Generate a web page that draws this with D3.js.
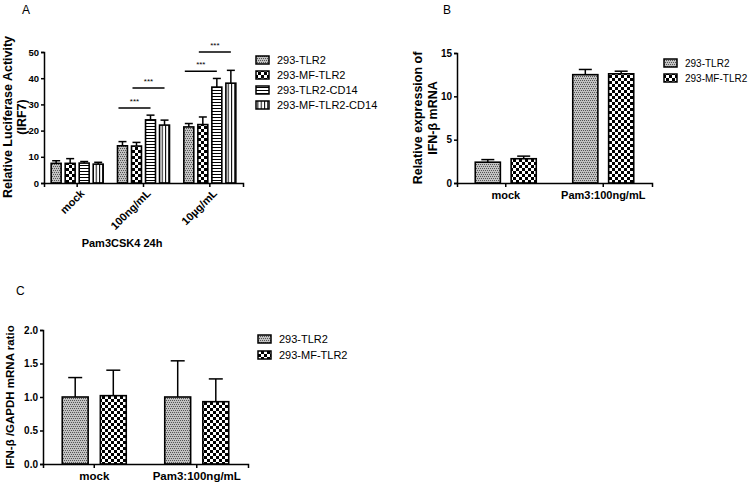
<!DOCTYPE html>
<html lang="en">
<head>
<meta charset="UTF-8">
<title>TLR2 panels</title>
<style>
    html, body { margin: 0; padding: 0; background: #fff; }
    svg { display: block; font-family: "Liberation Sans", Arial, sans-serif; }
    .axis path, .axis line { stroke: #000; stroke-width: 1.5; }
    .axis text { font-weight: bold; font-size: 9px; fill: #000; }
</style>
</head>
<body>
<div id="wrapper"></div>
<script src="https://cdnjs.cloudflare.com/ajax/libs/d3/7.8.5/d3.min.js"></script>
<script>
    // ---- data ----
    // panel A
    const groupsA = ['mock', '100ng/mL', '10µg/mL'];
    const seriesA = ['293-TLR2', '293-MF-TLR2', '293-TLR2-CD14', '293-MF-TLR2-CD14'];
    const meansA = [
        [7.5, 7.5, 7.6, 7.2],
        [14.2, 14.1, 24.1, 22.1],
        [21.4, 22.3, 36.6, 38.1]
    ];
    const errA = [
        [1.0, 1.8, 0.6, 0.7],
        [1.6, 1.4, 1.8, 1.9],
        [1.3, 2.9, 3.3, 4.9]
    ];
    const ticksA = [0, 10, 20, 30, 40, 50];
    // significance bars: group, from series, to series, height
    const sigA = [
        { g: 1, a: 0, b: 2, y: 28.6 },
        { g: 1, a: 1, b: 3, y: 36.3 },
        { g: 2, a: 0, b: 2, y: 42.7 },
        { g: 2, a: 1, b: 3, y: 50.0 }
    ];

    // panel B
    const groupsB = ['mock', 'Pam3:100ng/mL'];
    const seriesB = ['293-TLR2', '293-MF-TLR2'];
    const meansB = [[2.4, 2.8], [12.5, 12.6]];
    const errB = [[0.3, 0.3], [0.6, 0.3]];
    const ticksB = [0, 5, 10, 15];

    // panel C
    const groupsC = ['mock', 'Pam3:100ng/mL'];
    const seriesC = ['293-TLR2', '293-MF-TLR2'];
    const meansC = [[1.0, 1.02], [1.0, 0.93]];
    const errC = [[0.29, 0.38], [0.54, 0.34]];
    const ticksC = [0, 0.5, 1.0, 1.5, 2.0];

    const fills = {
        '293-TLR2': 'url(#pStip)',
        '293-MF-TLR2': 'url(#pCheck)',
        '293-TLR2-CD14': 'url(#pHor)',
        '293-MF-TLR2-CD14': 'url(#pVer)'
    };

    const svg = d3.select('#wrapper').append('svg')
        .attr('width', 750).attr('height', 482);

    // patterns
    const defs = svg.append('defs');
    const stip = defs.append('pattern').attr('id', 'pStip')
        .attr('patternUnits', 'userSpaceOnUse').attr('width', 4).attr('height', 4);
    stip.append('rect').attr('width', 4).attr('height', 4).attr('fill', '#c2c2c2');
    [[0, 0], [2, 0], [1, 2], [3, 2]].forEach(p => {
        stip.append('rect').attr('x', p[0]).attr('y', p[1]).attr('width', 1).attr('height', 1).attr('fill', '#555');
    });

    const chk = defs.append('pattern').attr('id', 'pCheck')
        .attr('patternUnits', 'userSpaceOnUse').attr('width', 6).attr('height', 6);
    chk.append('rect').attr('width', 6).attr('height', 6).attr('fill', '#fff');
    chk.append('rect').attr('width', 3).attr('height', 3).attr('fill', '#000');
    chk.append('rect').attr('x', 3).attr('y', 3).attr('width', 3).attr('height', 3).attr('fill', '#000');

    const hor = defs.append('pattern').attr('id', 'pHor')
        .attr('patternUnits', 'userSpaceOnUse').attr('width', 3).attr('height', 3);
    hor.append('rect').attr('width', 3).attr('height', 3).attr('fill', '#fff');
    hor.append('rect').attr('width', 3).attr('height', 1).attr('fill', '#000');

    const ver = defs.append('pattern').attr('id', 'pVer')
        .attr('patternUnits', 'userSpaceOnUse').attr('width', 3.3).attr('height', 3);
    ver.append('rect').attr('width', 3.3).attr('height', 3).attr('fill', '#fff');
    ver.append('rect').attr('width', 1).attr('height', 3).attr('fill', '#000');

    // generic grouped bar panel
    function panel(o) {
        const g = svg.append('g');
        const x0 = d3.scaleBand().domain(o.groups).range([o.left, o.right]);
        const x1 = d3.scaleBand().domain(o.series).range([-o.inner / 2, o.inner / 2]).paddingInner(o.pad);
        const y = d3.scaleLinear().domain([0, o.max]).range([o.bottom, o.top]);
        const cx = gi => x0(o.groups[gi]) + x0.bandwidth() / 2;

        // bars
        o.means.forEach((row, gi) => {
            row.forEach((v, si) => {
                const s = o.series[si];
                const bx = cx(gi) + x1(s);
                const mid = bx + x1.bandwidth() / 2;
                const top = y(v + o.errs[gi][si]);
                g.append('line').attr('x1', mid).attr('x2', mid)
                    .attr('y1', y(v)).attr('y2', top)
                    .attr('stroke', '#000').attr('stroke-width', 1.5);
                g.append('line').attr('x1', mid - o.cap / 2).attr('x2', mid + o.cap / 2)
                    .attr('y1', top).attr('y2', top)
                    .attr('stroke', '#000').attr('stroke-width', 1.5);
                g.append('rect').attr('x', bx).attr('y', y(v))
                    .attr('width', x1.bandwidth()).attr('height', o.bottom - y(v))
                    .attr('fill', fills[s]).attr('stroke', '#000').attr('stroke-width', 1.6);
            });
        });

        // y axis
        const ya = g.append('g').attr('class', 'axis')
            .attr('transform', `translate(${o.left},0)`)
            .call(d3.axisLeft(y).tickValues(o.ticks).tickFormat(o.fmt).tickSizeOuter(0).tickSize(3).tickPadding(2));
        ya.selectAll('text').style('font-size', o.tickFont + 'px');

        // x axis
        const xa = g.append('g').attr('class', 'axis')
            .attr('transform', `translate(0,${o.bottom})`)
            .call(d3.axisBottom(x0).tickSizeOuter(0).tickSize(4).tickPadding(4));
        xa.selectAll('text').style('font-size', o.xFont + 'px');
        if (o.rotate) {
            xa.selectAll('text')
                .attr('text-anchor', 'end')
                .attr('dx', '-0.2em').attr('dy', '0.5em')
                .attr('transform', 'rotate(-45)');
        }

        // y label
        o.ylab.forEach((t, i) => {
            g.append('text')
                .attr('transform', `translate(${o.ylabX[i]},${o.ylabY}) rotate(-90)`)
                .attr('text-anchor', 'middle')
                .attr('font-weight', 'bold').attr('font-size', o.ylabFont)
                .text(t);
        });

        // legend
        o.series.forEach((s, i) => {
            const ly = o.legY + i * o.legStep;
            g.append('rect').attr('x', o.legX).attr('y', ly - 4)
                .attr('width', 13).attr('height', 8)
                .attr('fill', fills[s]).attr('stroke', '#000').attr('stroke-width', 1.5);
            g.append('text').attr('x', o.legX + 21).attr('y', ly + 4)
                .attr('font-size', o.legFont).text(s);
        });

        // panel letter
        g.append('text').attr('x', o.letter[0]).attr('y', o.letter[1])
            .attr('font-size', 12).text(o.name);

        return { g, x0, x1, y, cx };
    }

    const A = panel({
        name: 'A', letter: [22, 14],
        groups: groupsA, series: seriesA, means: meansA, errs: errA,
        left: 44, right: 243, top: 52, bottom: 183, max: 50,
        inner: 52, pad: 0.29, cap: 8, ticks: ticksA, fmt: d3.format('d'),
        tickFont: 9.5, xFont: 11, rotate: true,
        ylab: ['Relative Luciferase Activity', '(IRF7)'], ylabX: [12, 26], ylabY: 117, ylabFont: 12.5,
        legX: 256, legY: 60, legStep: 15, legFont: 11
    });

    // significance marks on A
    sigA.forEach(d => {
        const xa = A.cx(d.g) + A.x1(seriesA[d.a]) + A.x1.bandwidth() / 2 - 4;
        const xb = A.cx(d.g) + A.x1(seriesA[d.b]) + A.x1.bandwidth() / 2;
        A.g.append('line').attr('x1', xa).attr('x2', xb)
            .attr('y1', A.y(d.y)).attr('y2', A.y(d.y))
            .attr('stroke', '#000').attr('stroke-width', 1.5);
        A.g.append('text').attr('x', (xa + xb) / 2).attr('y', A.y(d.y) - 4)
            .attr('text-anchor', 'middle').attr('font-size', 8).text('***');
    });

    A.g.append('text').attr('x', 122).attr('y', 247)
        .attr('text-anchor', 'middle').attr('font-weight', 'bold').attr('font-size', 11)
        .text('Pam3CSK4 24h');

    panel({
        name: 'B', letter: [443, 14],
        groups: groupsB, series: seriesB, means: meansB, errs: errB,
        left: 457, right: 652, top: 53, bottom: 183, max: 15,
        inner: 61, pad: 0.3, cap: 13, ticks: ticksB, fmt: d3.format('d'),
        tickFont: 10, xFont: 11, rotate: false,
        ylab: ['Relative expression of', 'IFN-β mRNA'], ylabX: [422, 437], ylabY: 118, ylabFont: 12.5,
        legX: 664, legY: 63, legStep: 15, legFont: 10
    });

    panel({
        name: 'C', letter: [16, 295],
        groups: groupsC, series: seriesC, means: meansC, errs: errC,
        left: 43, right: 248, top: 330, bottom: 464, max: 2,
        inner: 64, pad: 0.32, cap: 14, ticks: ticksC, fmt: d3.format('.1f'),
        tickFont: 10, xFont: 11.5, rotate: false,
        ylab: ['IFN-β /GAPDH mRNA ratio'], ylabX: [14], ylabY: 397, ylabFont: 11.5,
        legX: 258, legY: 339, legStep: 16, legFont: 11
    });
</script>
</body>
</html>
